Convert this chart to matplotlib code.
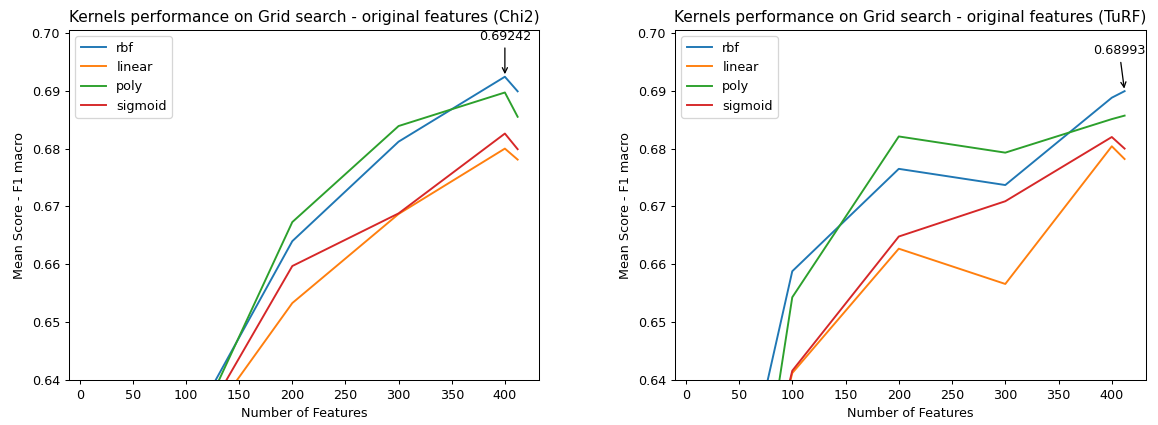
import matplotlib.pyplot as plt

# number of selected features
n_features = [10, 50, 100, 200, 300, 400, 412]
kernels = ["rbf", "linear", "poly", "sigmoid"]

# mean F1 macro per kernel - Chi2 selection
chi2_rbf = [0.570, 0.600, 0.6307, 0.6640, 0.6812, 0.69242, 0.6899]
chi2_linear = [0.565, 0.598, 0.6277, 0.6533, 0.6687, 0.6800, 0.6781]
chi2_poly = [0.568, 0.598, 0.6277, 0.6673, 0.6839, 0.6897, 0.6855]
chi2_sigmoid = [0.566, 0.597, 0.6279, 0.6597, 0.6688, 0.6826, 0.6799]

# mean F1 macro per kernel - TuRF selection
turf_rbf = [0.590, 0.618, 0.6588, 0.6765, 0.6737, 0.6888, 0.68993]
turf_linear = [0.575, 0.603, 0.6412, 0.6627, 0.6566, 0.6804, 0.6782]
turf_poly = [0.570, 0.595, 0.6543, 0.6821, 0.6793, 0.6851, 0.6857]
turf_sigmoid = [0.578, 0.604, 0.6416, 0.6648, 0.6709, 0.6820, 0.6800]

chi2 = [chi2_rbf, chi2_linear, chi2_poly, chi2_sigmoid]
turf = [turf_rbf, turf_linear, turf_poly, turf_sigmoid]

# image was downscaled, so render at a lower dpi
dpi = 92
fig = plt.figure(figsize=(1158 / dpi, 425 / dpi))
W, H = 1158, 425
ax1 = fig.add_axes([69 / W, 1 - 380 / H, 470 / W, 350 / H])
ax2 = fig.add_axes([675 / W, 1 - 380 / H, 471 / W, 350 / H])

panels = [
    (ax1, chi2, "Chi2", 400, 0.69242, (400, 0.6994)),
    (ax2, turf, "TuRF", 412, 0.68993, (407, 0.6969)),
]

for ax, scores, method, bx, by, txt in panels:
    for name, vals in zip(kernels, scores):
        ax.plot(n_features, vals, label=name)
    ax.set_ylim(0.64, 0.7005)
    ax.set_title(f"Kernels performance on Grid search - original features ({method})")
    ax.set_xlabel("Number of Features")
    ax.set_ylabel("Mean Score - F1 macro")
    ax.legend(loc="upper left")
    ax.annotate(f"{by:.5f}", xy=(bx, by), xytext=txt, ha="center", va="center",
                arrowprops=dict(arrowstyle="->", color="black"))

plt.savefig("out.png", dpi=dpi)
